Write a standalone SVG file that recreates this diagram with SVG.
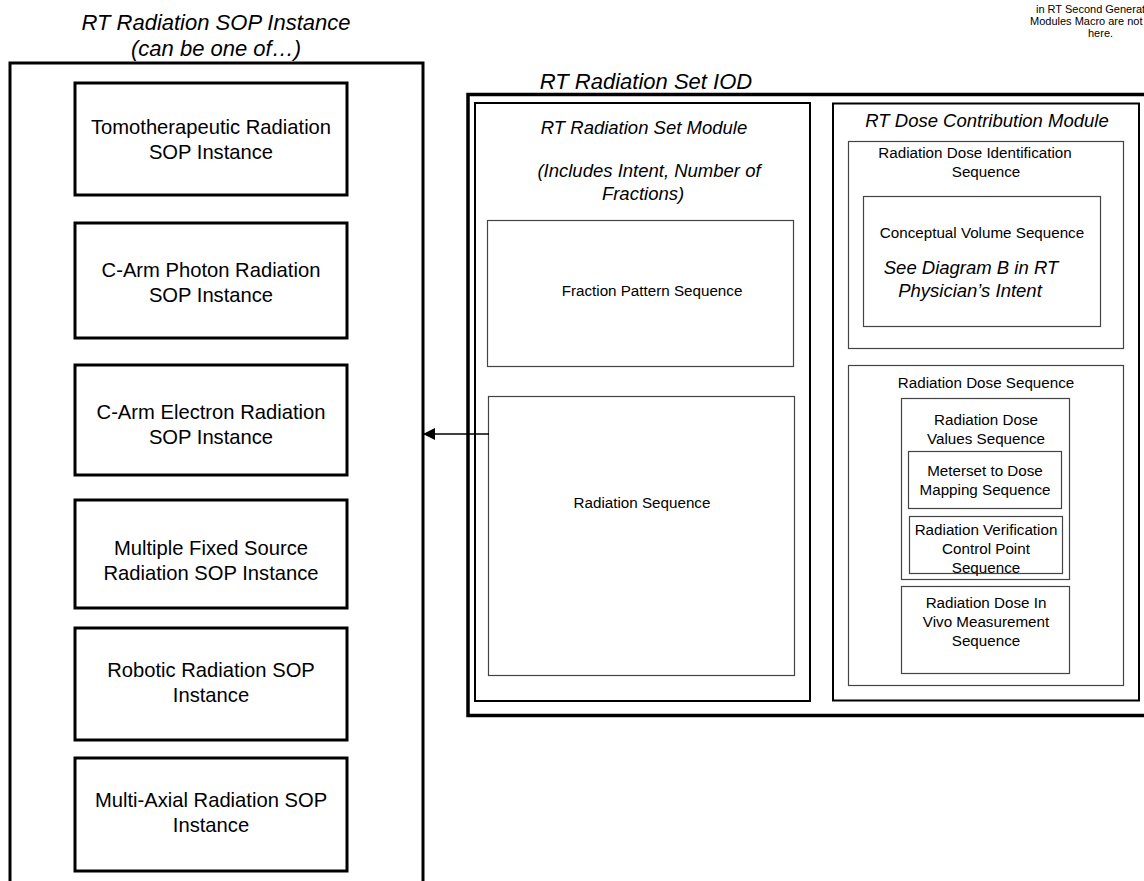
<svg xmlns="http://www.w3.org/2000/svg" width="1144" height="881" viewBox="0 0 1144 881">
  <defs>
    <style>
      text { font-family: "Liberation Sans", Arial, sans-serif; fill: #000; text-anchor: middle; }
      .title { font-size: 22px; font-style: italic; }
      .inst { font-size: 20.2px; }
      .modt { font-size: 18.5px; font-style: italic; }
      .seqt { font-size: 15.2px; }
      .note { font-size: 11px; text-anchor: start; }
      .frame { fill: none; stroke: #000; stroke-width: 3; }
      .iod { fill: none; stroke: #000; stroke-width: 3.5; }
      .module { fill: none; stroke: #000; stroke-width: 2; }
      .seq { fill: none; stroke: #444; stroke-width: 1.2; }
      .conn { stroke: #000; stroke-width: 1.6; fill: none; }
    </style>
    <marker id="arrow" viewBox="0 0 12 12" refX="11" refY="6" markerWidth="12" markerHeight="12" markerUnits="userSpaceOnUse" orient="auto">
      <path d="M0,0 L12,6 L0,12 z" fill="#000"/>
    </marker>
  </defs>

  <!-- note at top right, running off the page edge -->
  <g id="note">
    <text class="note" x="1036" y="13">in RT Second Generation</text>
    <text class="note" x="1030" y="25">Modules Macro are not</text>
    <text class="note" x="1088" y="37">here.</text>
  </g>

  <!-- RT Radiation SOP Instance container -->
  <g id="sop-instance">
    <text class="title" x="216" y="30">RT Radiation SOP Instance</text>
    <text class="title" x="216" y="56">(can be one of…)</text>
    <rect class="frame" x="10" y="63" width="413" height="850"/>
  </g>

  <g id="tomotherapeutic">
    <rect class="frame" x="75" y="83" width="272" height="112"/>
    <text class="inst" x="211" y="134">Tomotherapeutic Radiation</text>
    <text class="inst" x="211" y="159">SOP Instance</text>
  </g>

  <g id="c-arm-photon">
    <rect class="frame" x="75" y="223" width="272" height="115"/>
    <text class="inst" x="211" y="277">C-Arm Photon Radiation</text>
    <text class="inst" x="211" y="302">SOP Instance</text>
  </g>

  <g id="c-arm-electron">
    <rect class="frame" x="75" y="365" width="272" height="110"/>
    <text class="inst" x="211" y="419">C-Arm Electron Radiation</text>
    <text class="inst" x="211" y="444">SOP Instance</text>
  </g>

  <g id="multiple-fixed-source">
    <rect class="frame" x="75" y="500" width="272" height="108"/>
    <text class="inst" x="211" y="555">Multiple Fixed Source</text>
    <text class="inst" x="211" y="580">Radiation SOP Instance</text>
  </g>

  <g id="robotic">
    <rect class="frame" x="75" y="628" width="272" height="112"/>
    <text class="inst" x="211" y="677">Robotic Radiation SOP</text>
    <text class="inst" x="211" y="702">Instance</text>
  </g>

  <g id="multi-axial">
    <rect class="frame" x="75" y="758" width="272" height="113"/>
    <text class="inst" x="211" y="807">Multi-Axial Radiation SOP</text>
    <text class="inst" x="211" y="832">Instance</text>
  </g>

  <!-- RT Radiation Set IOD -->
  <g id="iod">
    <text class="title" x="646" y="89">RT Radiation Set IOD</text>
    <rect class="iod" x="468" y="94.5" width="700" height="621"/>
  </g>

  <g id="radiation-set-module">
    <rect class="module" x="475" y="103" width="335" height="598"/>
    <text class="modt" x="644" y="134">RT Radiation Set Module</text>
    <text class="modt" x="649" y="177">(Includes Intent, Number of</text>
    <text class="modt" x="643" y="200">Fractions)</text>
  </g>

  <g id="fraction-pattern-sequence">
    <rect class="seq" x="487.5" y="220.5" width="306" height="146"/>
    <text class="seqt" x="652" y="296">Fraction Pattern Sequence</text>
  </g>

  <g id="radiation-sequence">
    <rect class="seq" x="488.5" y="396.5" width="306" height="279"/>
    <text class="seqt" x="642" y="508">Radiation Sequence</text>
  </g>

  <g id="dose-contribution-module">
    <rect class="module" x="833" y="103.5" width="306" height="597"/>
    <text class="modt" x="987" y="127">RT Dose Contribution Module</text>
  </g>

  <g id="dose-identification-sequence">
    <rect class="seq" x="848.5" y="141.5" width="275" height="207"/>
    <text class="seqt" x="975" y="158">Radiation Dose Identification</text>
    <text class="seqt" x="986" y="177">Sequence</text>
  </g>

  <g id="conceptual-volume-sequence">
    <rect class="seq" x="863.5" y="196.5" width="237" height="130"/>
    <text class="seqt" x="982" y="238">Conceptual Volume Sequence</text>
    <text class="modt" x="971" y="274">See Diagram B in RT</text>
    <text class="modt" x="970" y="297">Physician’s Intent</text>
  </g>

  <g id="dose-sequence">
    <rect class="seq" x="848.5" y="365.5" width="275" height="320"/>
    <text class="seqt" x="986" y="388">Radiation Dose Sequence</text>
  </g>

  <g id="dose-values-sequence">
    <rect class="seq" x="901.5" y="398.5" width="168" height="181"/>
    <text class="seqt" x="986" y="425">Radiation Dose</text>
    <text class="seqt" x="986" y="444">Values Sequence</text>
  </g>

  <g id="meterset-mapping-sequence">
    <rect class="seq" x="908.5" y="451.5" width="153" height="57"/>
    <text class="seqt" x="985" y="476">Meterset to Dose</text>
    <text class="seqt" x="985" y="495">Mapping Sequence</text>
  </g>

  <g id="verification-control-point-sequence">
    <rect class="seq" x="909.5" y="516.5" width="153" height="57"/>
    <text class="seqt" x="986" y="535">Radiation Verification</text>
    <text class="seqt" x="986" y="554">Control Point</text>
    <text class="seqt" x="986" y="573">Sequence</text>
  </g>

  <g id="in-vivo-measurement-sequence">
    <rect class="seq" x="901.5" y="586.5" width="168" height="87"/>
    <text class="seqt" x="986" y="608">Radiation Dose In</text>
    <text class="seqt" x="986" y="627">Vivo Measurement</text>
    <text class="seqt" x="986" y="646">Sequence</text>
  </g>

  <!-- connectors -->
  <g id="connectors">
    <line class="conn" x1="489" y1="434" x2="424" y2="434" marker-end="url(#arrow)"/>
  </g>
</svg>
